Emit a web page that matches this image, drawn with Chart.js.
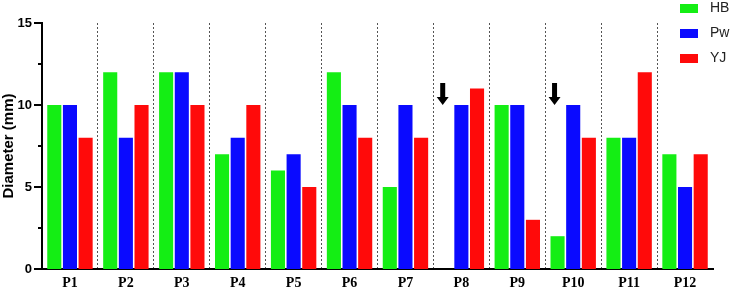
<!DOCTYPE html>
<html>
<head>
<meta charset="utf-8">
<script src="https://cdn.jsdelivr.net/npm/chart.js@4"></script>
<style>
  html, body { margin: 0; padding: 0; background: #fff; }
  #wrap { width: 731px; height: 292px; }
</style>
</head>
<body>
<div id="wrap"><canvas id="diameterChart"></canvas></div>
<script>
// categories and series (mm)
const plants = ['P1', 'P2', 'P3', 'P4', 'P5', 'P6', 'P7', 'P8', 'P9', 'P10', 'P11', 'P12'];
const hb = [10, 12, 12, 7, 6, 12, 5, null, 10, 2, 8, 7];
const pw = [10, 8, 12, 8, 7, 10, 10, 10, 10, 10, 8, 5];
const yj = [8, 10, 10, 10, 5, 8, 8, 11, 3, 8, 12, 7];
const yTicks = [0, 5, 10, 15];

// arrows pointing at the HB bar of these plants, tip at this value
const arrowPlants = ['P8', 'P10'];
const arrowTip = 10;

const labelFont = { family: 'Liberation Sans, Arial, sans-serif', size: 13, weight: 'bold' };

// legend drawn top right, over the plot like in the figure
const cornerLegend = {
  id: 'cornerLegend',
  afterDraw(chart) {
    const ctx = chart.ctx;
    ctx.save();
    ctx.font = '14px Liberation Sans, Arial, sans-serif';
    ctx.textBaseline = 'middle';
    chart.data.datasets.forEach((ds, i) => {
      const y = 8 + i * 25;
      ctx.fillStyle = ds.backgroundColor;
      ctx.fillRect(680, y - 4, 18, 9);
      ctx.fillStyle = '#222';
      ctx.fillText(ds.label, 710, y);
    });
    ctx.restore();
  }
};

// outward y tick marks, long ones at labelled ticks, short ones between
const yTickMarks = {
  id: 'yTickMarks',
  afterDraw(chart) {
    const ctx = chart.ctx;
    const y = chart.scales.y;
    const x0 = chart.chartArea.left;
    ctx.save();
    ctx.strokeStyle = '#000';
    ctx.lineWidth = 2;
    y.ticks.forEach(t => {
      const py = y.getPixelForValue(t.value);
      const len = yTicks.includes(t.value) ? 8 : 4;
      ctx.beginPath();
      ctx.moveTo(x0 - len, py);
      ctx.lineTo(x0, py);
      ctx.stroke();
    });
    ctx.restore();
  }
};

// small black down arrows
const arrows = {
  id: 'arrows',
  afterDatasetsDraw(chart) {
    const ctx = chart.ctx;
    const y = chart.scales.y;
    const meta = chart.getDatasetMeta(0);
    ctx.save();
    ctx.fillStyle = '#000';
    arrowPlants.forEach(p => {
      const i = plants.indexOf(p);
      const x = meta.data[i].x - 3;
      const tip = y.getPixelForValue(arrowTip);
      const top = tip - 22;
      ctx.beginPath();
      ctx.moveTo(x - 2.5, top);
      ctx.lineTo(x + 2.5, top);
      ctx.lineTo(x + 2.5, tip - 8);
      ctx.lineTo(x + 6, tip - 8);
      ctx.lineTo(x, tip);
      ctx.lineTo(x - 6, tip - 8);
      ctx.lineTo(x - 2.5, tip - 8);
      ctx.closePath();
      ctx.fill();
    });
    ctx.restore();
  }
};

new Chart(document.getElementById('diameterChart'), {
  type: 'bar',
  data: {
    labels: plants,
    datasets: [
      { label: 'HB', data: hb, backgroundColor: '#14ee14' },
      { label: 'Pw', data: pw, backgroundColor: '#0a0aff' },
      { label: 'YJ', data: yj, backgroundColor: '#ff0a0a' }
    ]
  },
  options: {
    responsive: true,
    maintainAspectRatio: false,
    animation: false,
    categoryPercentage: 0.84,
    barPercentage: 0.9,
    layout: { padding: { top: 23, right: 18, left: 0, bottom: 0 } },
    plugins: {
      legend: { display: false },
      tooltip: { enabled: false }
    },
    scales: {
      x: {
        grid: {
          offset: true,
          drawTicks: false,
          color: c => (c.type !== 'tick' || c.index === 0) ? 'transparent' : '#555',
          lineWidth: 1
        },
        border: { display: true, color: '#000', width: 2, dash: [2, 2] },
        ticks: {
          color: '#000',
          padding: 6,
          font: { family: 'Liberation Serif, Times New Roman, serif', size: 14, weight: 'bold' }
        },
        afterFit: s => { s.height = 23; }
      },
      y: {
        min: 0,
        max: 15,
        ticks: {
          stepSize: 2.5,
          color: '#000',
          padding: 10,
          font: labelFont,
          callback: v => yTicks.includes(v) ? v : ''
        },
        grid: { display: false, drawTicks: false },
        border: { display: true, color: '#000', width: 2 },
        title: {
          display: true,
          text: 'Diameter (mm)',
          color: '#000',
          font: { family: 'Liberation Sans, Arial, sans-serif', size: 15, weight: 'bold' },
          padding: 0
        },
        afterFit: s => { s.width = 42; }
      }
    }
  },
  plugins: [arrows, yTickMarks, cornerLegend]
});
</script>
</body>
</html>
